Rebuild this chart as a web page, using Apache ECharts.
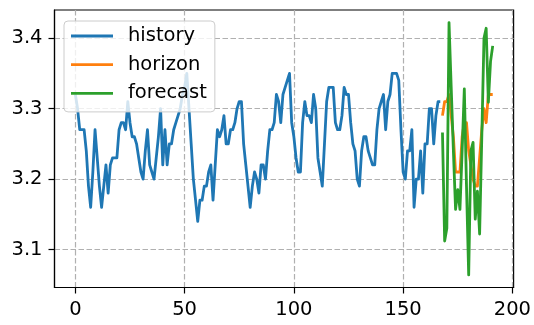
<!DOCTYPE html>
<html>
<head>
<meta charset="utf-8">
<script src="https://cdn.jsdelivr.net/npm/echarts@6/dist/echarts.min.js"></script>
<style>
  html, body { margin: 0; padding: 0; background: #fff; }
  #chart { width: 534px; height: 325px; }
</style>
</head>
<body>
<div id="chart"></div>
<script>
// Observed series, one value per step
const historyStart = 0;
const historyValues = [
  3.32, 3.30, 3.27, 3.27, 3.27, 3.24, 3.19, 3.16, 3.21, 3.27,
  3.23, 3.19, 3.16, 3.19, 3.22, 3.18, 3.22, 3.23, 3.23, 3.23,
  3.27, 3.28, 3.28, 3.27, 3.31, 3.28, 3.26, 3.26, 3.25, 3.23,
  3.21, 3.20, 3.24, 3.27, 3.22, 3.21, 3.20, 3.23, 3.26, 3.30,
  3.22, 3.27, 3.22, 3.25, 3.25, 3.27, 3.28, 3.29, 3.30, 3.32,
  3.33, 3.35, 3.30, 3.25, 3.20, 3.17, 3.14, 3.17, 3.17, 3.19,
  3.19, 3.21, 3.22, 3.17, 3.22, 3.27, 3.26, 3.27, 3.29, 3.25,
  3.25, 3.27, 3.27, 3.28, 3.30, 3.31, 3.31, 3.25, 3.22, 3.19,
  3.16, 3.19, 3.21, 3.20, 3.18, 3.22, 3.22, 3.20, 3.24, 3.27,
  3.27, 3.28, 3.32, 3.31, 3.28, 3.32, 3.33, 3.34, 3.35, 3.28,
  3.26, 3.23, 3.21, 3.21, 3.28, 3.31, 3.29, 3.29, 3.28, 3.32,
  3.30, 3.23, 3.21, 3.19, 3.25, 3.31, 3.33, 3.33, 3.33, 3.28,
  3.27, 3.27, 3.29, 3.33, 3.32, 3.32, 3.28, 3.25, 3.24, 3.20,
  3.19, 3.24, 3.26, 3.26, 3.24, 3.23, 3.22, 3.22, 3.27, 3.30,
  3.31, 3.32, 3.27, 3.31, 3.32, 3.35, 3.35, 3.35, 3.34, 3.27,
  3.21, 3.20, 3.24, 3.24, 3.27, 3.16, 3.20, 3.20, 3.24, 3.18,
  3.25, 3.25, 3.30, 3.30, 3.25, 3.29, 3.31, 3.31
];

// Actual values over the forecast horizon
const horizonStart = 168;
const horizonValues = [
  3.29, 3.31, 3.31, 3.32, 3.29, 3.26, 3.21, 3.21, 3.21, 3.26,
  3.28, 3.28, 3.24, 3.22, 3.20, 3.19, 3.19, 3.23, 3.27, 3.30,
  3.28, 3.32, 3.32, 3.32
];

// Model forecast over the same horizon
const forecastValues = [
  3.266, 3.112, 3.130, 3.422, 3.330, 3.240, 3.157, 3.185, 3.157, 3.240,
  3.328, 3.190, 3.064, 3.240, 3.252, 3.143, 3.183, 3.122, 3.260, 3.400,
  3.414, 3.309, 3.367, 3.389
];

const seriesNames = ['history', 'horizon', 'forecast'];
const xTickValues = [0, 50, 100, 150, 200];
const yTickValues = [3.1, 3.2, 3.3, 3.4];

function toPairs(start, values) {
  return values.map((v, i) => [start + i, v]);
}

const historyData = toPairs(historyStart, historyValues);
const horizonData = toPairs(horizonStart, horizonValues);
const forecastData = toPairs(horizonStart, forecastValues);

// Axis limits: data extent padded by 5% on each side
const allX = [].concat(historyData, horizonData, forecastData).map(p => p[0]);
const allY = [].concat(historyValues, horizonValues, forecastValues);
function padded(arr) {
  const lo = Math.min.apply(null, arr), hi = Math.max.apply(null, arr);
  const m = (hi - lo) * 0.05;
  return [lo - m, hi + m];
}
const [xMin, xMax] = padded(allX);
const [yMin, yMax] = padded(allY);

const FONT = 'DejaVu Sans';
const FONT_SIZE = 19.5;
const gridLine = { show: true, lineStyle: { color: '#b0b0b0', width: 1.2, type: [5.5, 2.5] } };

const chart = echarts.init(document.getElementById('chart'), null, { renderer: 'canvas' });
chart.setOption({
  animation: false,
  color: ['#1f77b4', '#ff7f0e', '#2ca02c'],
  grid: {
    left: 54.5, top: 10, width: 462.5, height: 277.5,
    show: true, borderColor: '#000', borderWidth: 1.2, backgroundColor: 'transparent'
  },
  legend: {
    data: seriesNames,
    orient: 'vertical',
    left: 64, top: 21,
    padding: [5, 8, 8.5, 7],
    icon: 'rect',
    itemWidth: 42, itemHeight: 2.8, itemGap: 8.7,
    backgroundColor: 'rgba(255,255,255,0.8)',
    borderColor: '#cccccc', borderWidth: 1, borderRadius: 4,
    textStyle: { fontFamily: FONT, fontSize: FONT_SIZE, color: '#000', lineHeight: 20, padding: [0, 0, 0, 10] },
    z: 10
  },
  xAxis: {
    type: 'value', min: xMin, max: xMax,
    axisLine: { show: true, onZero: false, lineStyle: { color: '#000', width: 1.2 } },
    axisTick: { show: true, inside: false, length: 6, lineStyle: { color: '#000', width: 1.2 }, customValues: xTickValues },
    axisLabel: { fontFamily: FONT, fontSize: FONT_SIZE, color: '#000', margin: 12, customValues: xTickValues },
    splitLine: gridLine
  },
  yAxis: {
    type: 'value', min: yMin, max: yMax,
    axisLine: { show: true, onZero: false, lineStyle: { color: '#000', width: 1.2 } },
    axisTick: { show: true, inside: false, length: 6, lineStyle: { color: '#000', width: 1.2 }, customValues: yTickValues },
    axisLabel: { fontFamily: FONT, fontSize: FONT_SIZE, color: '#000', margin: 12, customValues: yTickValues,
      formatter: v => v.toFixed(1) },
    splitLine: gridLine
  },
  series: [
    { name: seriesNames[0], type: 'line', data: historyData },
    { name: seriesNames[1], type: 'line', data: horizonData },
    { name: seriesNames[2], type: 'line', data: forecastData }
  ].map(s => Object.assign(s, {
    symbol: 'none', showSymbol: false,
    lineStyle: { width: 2.8, join: 'round' }
  }))
});
</script>
</body>
</html>
